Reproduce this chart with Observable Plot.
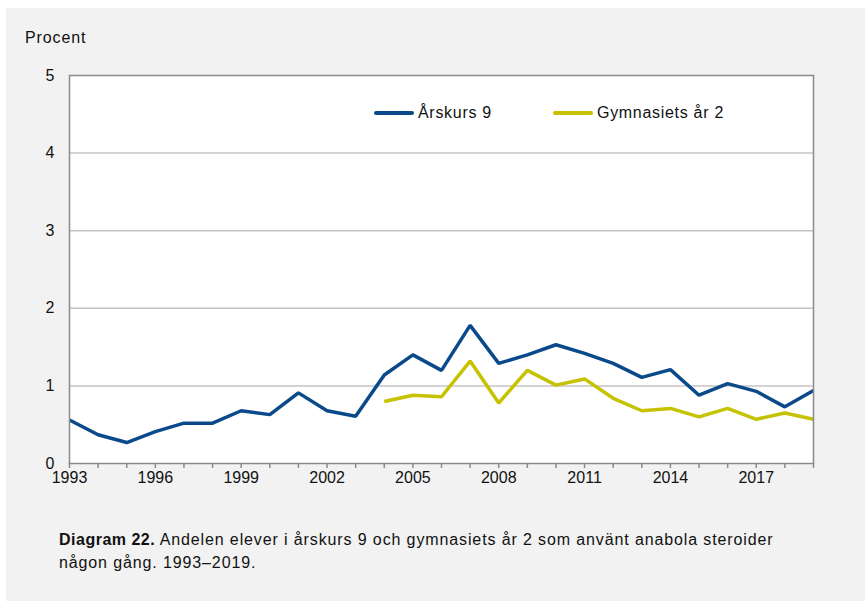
<!DOCTYPE html>
<html>
<head>
<meta charset="utf-8">
<script src="https://cdn.jsdelivr.net/npm/d3@7"></script>
<script src="https://cdn.jsdelivr.net/npm/@observablehq/plot@0.6"></script>
<style>
  html, body { margin: 0; padding: 0; background: #ffffff; width: 865px; height: 601px; overflow: hidden; }
  body { font-family: "Liberation Sans", Arial, sans-serif; color: #111; position: relative; }
  #panel { position: absolute; left: 6px; top: 8px; width: 859px; height: 593px; background: #f2f2f2; }
  #chart { position: absolute; left: 0; top: 0; }
  #ylabel { position: absolute; left: 25px; top: 28px; font-size: 16px; line-height: 20px; letter-spacing: 0.9px; }
  .leg { position: absolute; top: 103px; font-size: 16px; line-height: 20px; display: flex; align-items: center; letter-spacing: 0.7px; }
  .leg span.sw { display: inline-block; width: 40px; height: 3.5px; margin-right: 4px; border-radius: 2px; }
  #caption { position: absolute; left: 59px; top: 528px; font-size: 16px; line-height: 23px; width: 760px; letter-spacing: 0.88px; }
  #caption b { letter-spacing: 0.5px; }
</style>
</head>
<body>
<div id="panel"></div>
<div id="chart"></div>
<div id="ylabel">Procent</div>
<div id="caption"></div>
<script>
const years = d3.range(1993, 2020);
const arskurs9 = [0.56, 0.37, 0.27, 0.41, 0.52, 0.52, 0.68, 0.63, 0.91, 0.68, 0.61, 1.14, 1.40, 1.20, 1.78, 1.29, 1.40, 1.53, 1.42, 1.29, 1.11, 1.21, 0.88, 1.03, 0.93, 0.73, 0.94];
const gymnYears = d3.range(2004, 2020);
const gymnasiet2 = [0.80, 0.88, 0.86, 1.32, 0.78, 1.20, 1.01, 1.09, 0.84, 0.68, 0.71, 0.60, 0.71, 0.57, 0.65, 0.57];
const seriesNames = ["Årskurs 9", "Gymnasiets år 2"];
const seriesColors = ["#0a4a8a", "#c6c200"];
const xTickLabels = [1993, 1996, 1999, 2002, 2005, 2008, 2011, 2014, 2017];
const yTicks = [0, 1, 2, 3, 4, 5];
const captionBold = "Diagram 22.";
const captionLine1 = " Andelen elever i årskurs 9 och gymnasiets år 2 som använt anabola steroider";
const captionLine2 = "någon gång. 1993–2019.";

const data = [
  ...years.map((y, i) => ({year: y, value: arskurs9[i], series: seriesNames[0]})),
  ...gymnYears.map((y, i) => ({year: y, value: gymnasiet2[i], series: seriesNames[1]}))
];

const W = 865, H = 500;
const chart = Plot.plot({
  width: W,
  height: H,
  marginLeft: 69,
  marginRight: 52,
  marginTop: 75,
  marginBottom: 37,
  style: {background: "transparent", fontFamily: "Liberation Sans, Arial, sans-serif", fontSize: "16px", color: "#111"},
  x: {domain: [1993, 2019], label: null},
  y: {domain: [0, 5], label: null},
  color: {domain: seriesNames, range: seriesColors},
  marks: [
    Plot.frame({fill: "white", stroke: "none"}),
    Plot.gridY([1, 2, 3, 4], {stroke: "#c4c4c4", strokeOpacity: 1, strokeWidth: 1.5}),
    Plot.line(data, {x: "year", y: "value", z: "series", stroke: "series", strokeWidth: 3.5, strokeLinejoin: "miter", strokeLinecap: "butt"}),
    Plot.frame({stroke: "#8a8a8a", strokeWidth: 1.5}),
    Plot.axisX({ticks: years, tickSize: 5, text: null, label: null, stroke: "#8a8a8a", strokeWidth: 1.5}),
    Plot.axisX({ticks: xTickLabels, tickSize: 0, tickPadding: 8, tickFormat: d => String(d), label: null, fontSize: 16, fill: "#111"}),
    Plot.axisY({ticks: yTicks, tickSize: 0, tickPadding: 15, tickFormat: d => String(d), label: null, fontSize: 16, fill: "#111"})
  ]
});
document.getElementById("chart").appendChild(chart);

// Legend
const legX = [374, 553];
seriesNames.forEach((name, i) => {
  const d = document.createElement("div");
  d.className = "leg";
  d.style.left = legX[i] + "px";
  const sw = document.createElement("span");
  sw.className = "sw";
  sw.style.background = seriesColors[i];
  d.appendChild(sw);
  d.appendChild(document.createTextNode(name));
  document.body.appendChild(d);
});

const cap = document.getElementById("caption");
const b = document.createElement("b");
b.textContent = captionBold;
cap.appendChild(b);
cap.appendChild(document.createTextNode(captionLine1));
cap.appendChild(document.createElement("br"));
cap.appendChild(document.createTextNode(captionLine2));
</script>
</body>
</html>
